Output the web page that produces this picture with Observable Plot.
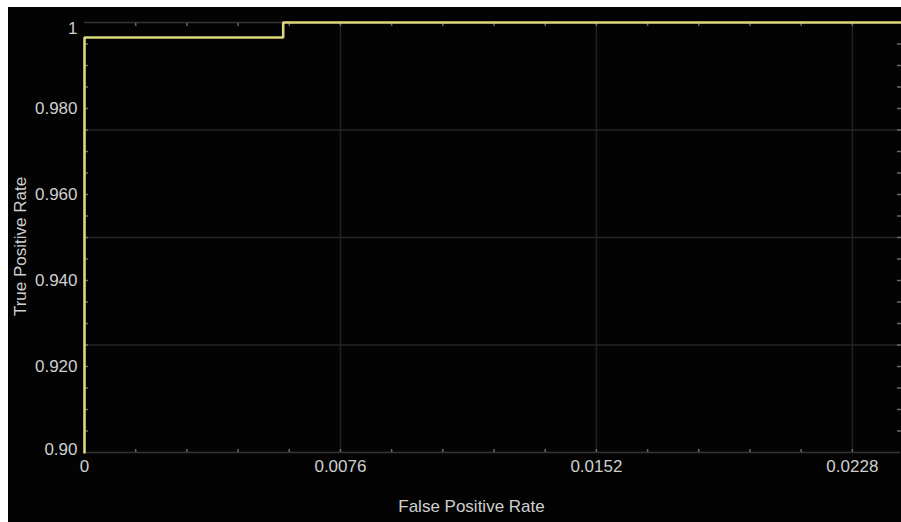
<!DOCTYPE html>
<html>
<head>
<meta charset="utf-8">
<script src="https://cdn.jsdelivr.net/npm/d3@7"></script>
<script src="https://cdn.jsdelivr.net/npm/@observablehq/plot@0.6"></script>
<style>
  html, body { margin: 0; padding: 0; background: #ffffff; }
  #chart { position: absolute; left: 8px; top: 7px; width: 893px; height: 515px; background: #030303; }
  #chart svg { display: block; }
</style>
</head>
<body>
<div id="chart"></div>
<script>
// ROC curve step points (false positive rate, true positive rate)
const fpr = [0, 0, 0.0059, 0.0059, 0.02423];
const tpr = [0.90, 0.9965, 0.9965, 1.0, 1.0];

// Axis ticks and labels
const xTicks = [0, 0.0076, 0.0152, 0.0228];
const xTickLabels = ["0", "0.0076", "0.0152", "0.0228"];
const yTicksMid = [0.92, 0.94, 0.96, 0.98];
const yTickLabelsMid = ["0.920", "0.940", "0.960", "0.980"];
const yTickTop = [1.0];
const yTickTopLabel = ["1"];
const yTickBottom = [0.90];
const yTickBottomLabel = ["0.90"];
const xGrid = [0.0076, 0.0152, 0.0228];
const yGrid = [0.925, 0.95, 0.975];
const xMinor = [0.00152, 0.00304, 0.00456, 0.00608, 0.0076, 0.00912, 0.01064, 0.01216, 0.01368, 0.0152,
                0.01672, 0.01824, 0.01976, 0.02128, 0.0228];
const yMinor = [0.905, 0.91, 0.915, 0.92, 0.925, 0.93, 0.935, 0.94, 0.945, 0.95,
                0.955, 0.96, 0.965, 0.97, 0.975, 0.98, 0.985, 0.99, 0.995];
const xTitle = "False Positive Rate";
const yTitle = "True Positive Rate";

const curve = fpr.map((x, i) => ({x, y: tpr[i]}));
const textColor = "#cfcfcf";
const font = "Liberation Sans, Arial, sans-serif";
const fs = 17;

const chart = Plot.plot({
  width: 893,
  height: 515,
  marginLeft: 76,
  marginRight: 1,
  marginTop: 15,
  marginBottom: 70,
  style: {background: "#030303", color: textColor, fontFamily: font, fontSize: fs + "px"},
  x: {domain: [0, 0.02423]},
  y: {domain: [0.9, 1]},
  marks: [
    Plot.gridX(xGrid, {stroke: "#222222", strokeOpacity: 1, strokeWidth: 1.5}),
    Plot.gridY(yGrid, {stroke: "#262626", strokeOpacity: 1, strokeWidth: 1.5}),
    Plot.ruleY([0.9, 1], {stroke: "#343434", strokeWidth: 1.5}),
    Plot.axisX(xMinor, {anchor: "bottom", tickSize: -3, tickFormat: () => "", label: null, stroke: "#6a6a6a", strokeWidth: 1.5}),
    Plot.axisX(xMinor, {anchor: "top", tickSize: -3, tickFormat: () => "", label: null, stroke: "#6a6a6a", strokeWidth: 1.5}),
    Plot.axisY(yMinor, {anchor: "left", tickSize: -4, tickFormat: () => "", label: null, stroke: "#6a6a6a", strokeWidth: 1.5}),
    Plot.axisY(yMinor, {anchor: "right", tickSize: -4, tickFormat: () => "", label: null, stroke: "#6a6a6a", strokeWidth: 1.5}),
    Plot.axisX(xTicks, {anchor: "bottom", tickSize: 0, tickPadding: 7, label: null,
      tickFormat: (d) => xTickLabels[xTicks.indexOf(d)], fill: textColor, fontSize: fs}),
    Plot.axisY(yTicksMid, {anchor: "left", tickSize: 0, tickPadding: 7, label: null,
      tickFormat: (d) => yTickLabelsMid[yTicksMid.indexOf(d)], fill: textColor, fontSize: fs}),
    Plot.axisY(yTickTop, {anchor: "left", tickSize: 0, tickPadding: 7, label: null, dy: 6,
      tickFormat: () => yTickTopLabel[0], fill: textColor, fontSize: fs}),
    Plot.axisY(yTickBottom, {anchor: "left", tickSize: 0, tickPadding: 7, label: null, dy: -3,
      tickFormat: () => yTickBottomLabel[0], fill: textColor, fontSize: fs}),
    Plot.line(curve, {x: "x", y: "y", stroke: "#dcd87c", strokeWidth: 2.6, curve: "linear", strokeLinejoin: "miter"}),
    Plot.text([xTitle], {frameAnchor: "bottom", lineAnchor: "middle", textAnchor: "middle", dx: -21, dy: 54, fill: textColor, fontSize: fs}),
    Plot.text([yTitle], {frameAnchor: "left", textAnchor: "middle", lineAnchor: "middle", rotate: -90, dx: -64, dy: 9, fill: textColor, fontSize: fs})
  ]
});
document.getElementById("chart").appendChild(chart);
</script>
</body>
</html>
